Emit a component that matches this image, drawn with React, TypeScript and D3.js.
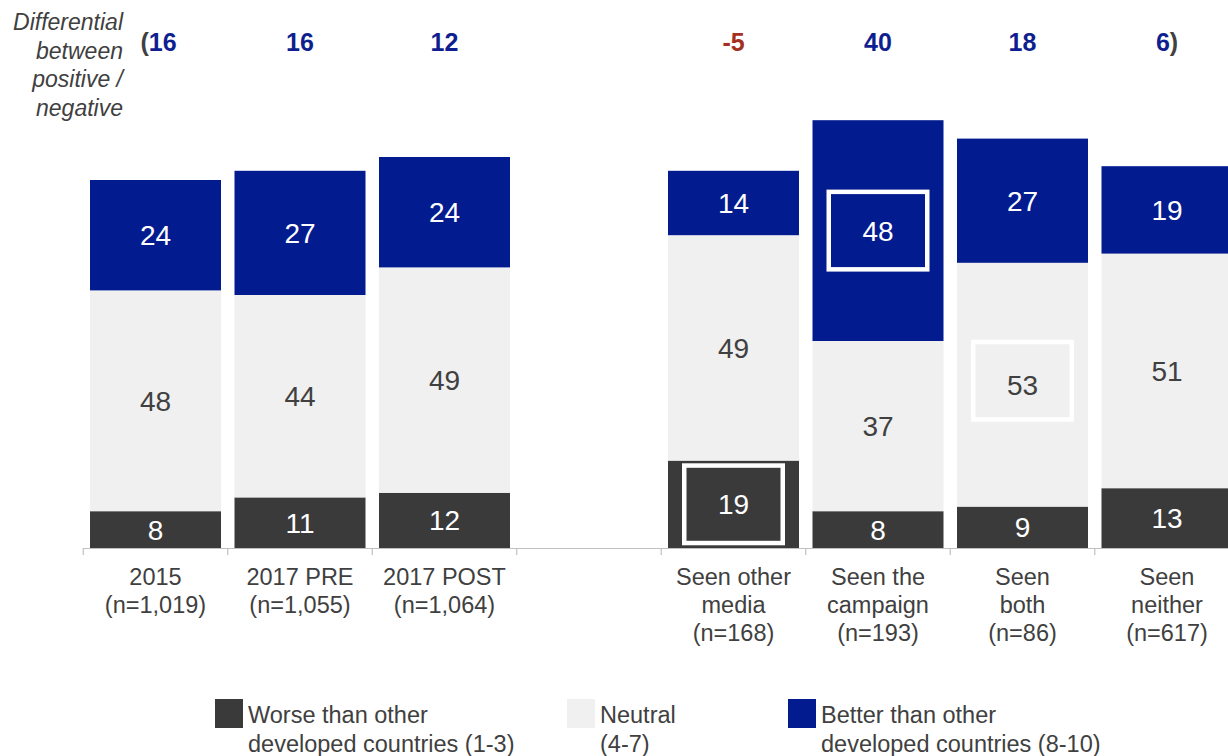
import * as d3 from 'd3';
import { useEffect } from 'react';

// Survey groups, left panel (years) then right panel (exposure)
const categories = ['2015', '2017 PRE', '2017 POST', 'Seen other media', 'Seen the campaign', 'Seen both', 'Seen neither'];
const tickLabels = [
  ['2015', '(n=1,019)'],
  ['2017 PRE', '(n=1,055)'],
  ['2017 POST', '(n=1,064)'],
  ['Seen other', 'media', '(n=168)'],
  ['Seen the', 'campaign', '(n=193)'],
  ['Seen', 'both', '(n=86)'],
  ['Seen', 'neither', '(n=617)'],
];
const worse = [8, 11, 12, 19, 8, 9, 13];
const neutral = [48, 44, 49, 49, 37, 53, 51];
const better = [24, 27, 24, 14, 48, 27, 19];
const differential = [16, 16, 12, -5, 40, 18, 6];

const seriesKeys = ['worse', 'neutral', 'better'];
const seriesNames = [
  ['Worse than other', 'developed countries (1-3)'],
  ['Neutral', '(4-7)'],
  ['Better than other', 'developed countries (8-10)'],
];
const highlights = [
  { category: 'Seen other media', series: 'worse' },
  { category: 'Seen the campaign', series: 'better' },
  { category: 'Seen both', series: 'neutral' },
];

const colors: Record<string, string> = { worse: '#3a3a3a', neutral: '#f0f0f0', better: '#021b8f' };
const labelColors: Record<string, string> = { worse: '#ffffff', neutral: '#404040', better: '#ffffff' };
const textColor = '#404040';
const font = '"Liberation Sans", Arial, sans-serif';

const W = 1228;
const H = 756;
const GAP = '__gap__';

export default function App() {
  useEffect(() => {
    document.body.style.margin = '0';
  }, []);

  const slots = [...categories.slice(0, 3), GAP, ...categories.slice(3)];
  const x = d3.scaleBand<string>()
    .domain(slots)
    .range([83.25, 83.25 + 144.5 * slots.length])
    .paddingInner(0.0934)
    .paddingOuter(0.0467);
  const step = x.step();
  const bw = x.bandwidth();
  const half = (step - bw) / 2;

  const y = d3.scaleLinear().domain([0, 100]).range([548, 88]);

  const rows = categories.map((c, i) => ({ category: c, worse: worse[i], neutral: neutral[i], better: better[i] }));
  const stacked = d3.stack<any>().keys(seriesKeys)(rows);

  const baseY = y(0);

  return (
    <svg width={W} height={H} style={{ display: 'block', fontFamily: font }}>
      <rect width={W} height={H} fill="#ffffff" />

      {/* title on the left */}
      <text x={123} y={22} textAnchor="end" fontStyle="italic" fontSize={23} fill={textColor}>
        {['Differential', 'between', 'positive /', 'negative'].map((t, i) => (
          <tspan key={i} x={123} y={22 + i * 28.7} dy="0.35em">{t}</tspan>
        ))}
      </text>

      {/* differential row */}
      {categories.map((c, i) => {
        const cx = (x(c) ?? 0) + bw / 2;
        const v = differential[i];
        const fill = v < 0 ? '#a33021' : '#0f1f8f';
        return (
          <text key={c} x={cx + (i === 0 ? 3 : 0)} y={42} dy="0.35em" textAnchor="middle" fontSize={25} fontWeight="bold">
            {i === 0 && <tspan fill={textColor}>(</tspan>}
            <tspan fill={fill}>{v}</tspan>
            {i === categories.length - 1 && <tspan fill={textColor}>)</tspan>}
          </text>
        );
      })}

      {/* stacked bars */}
      {stacked.map((layer) => (
        <g key={layer.key}>
          {layer.map((d, i) => {
            const c = categories[i];
            const x0 = x(c) ?? 0;
            const top = y(d[1]);
            const bottom = y(d[0]);
            return (
              <g key={c}>
                <rect x={x0} y={top} width={bw} height={bottom - top} fill={colors[layer.key]} />
                <text
                  x={x0 + bw / 2}
                  y={(top + bottom) / 2}
                  dy="0.36em"
                  textAnchor="middle"
                  fontSize={28}
                  fill={labelColors[layer.key]}
                >
                  {d[1] - d[0]}
                </text>
              </g>
            );
          })}
        </g>
      ))}

      {/* highlight boxes */}
      {highlights.map((h) => {
        const i = categories.indexOf(h.category);
        const layer = stacked[seriesKeys.indexOf(h.series)];
        const d = layer[i];
        const top = y(d[1]);
        const bottom = y(d[0]);
        const segH = bottom - top;
        const boxH = Math.min(82, segH - 4);
        const cy = (top + bottom) / 2 - (segH > 200 && h.series === 'neutral' ? 4 : 0);
        const x0 = (x(h.category) ?? 0) + 14;
        return (
          <rect
            key={h.category}
            x={x0 + 2.25}
            y={cy - boxH / 2 + 2.25}
            width={bw - 28 - 4.5}
            height={boxH - 4.5}
            fill="none"
            stroke="#ffffff"
            strokeWidth={4.5}
          />
        );
      })}

      {/* axis */}
      <line x1={x(slots[0])! - half} x2={W} y1={baseY + 0.5} y2={baseY + 0.5} stroke="#c0c0c0" strokeWidth={1.2} />
      {slots.map((s) => (
        <line
          key={s}
          x1={(x(s) ?? 0) - half}
          x2={(x(s) ?? 0) - half}
          y1={baseY}
          y2={baseY + 7}
          stroke="#c0c0c0"
          strokeWidth={1.2}
        />
      ))}

      {/* category labels */}
      {categories.map((c, i) => (
        <text key={c} textAnchor="middle" fontSize={23.5} fill={textColor}>
          {tickLabels[i].map((t, j) => (
            <tspan key={j} x={(x(c) ?? 0) + bw / 2} y={577 + j * 28} dy="0.35em">{t}</tspan>
          ))}
        </text>
      ))}

      {/* legend */}
      {seriesKeys.map((k, i) => {
        const lx = [215, 567, 788][i];
        return (
          <g key={k} transform={`translate(${lx},699)`}>
            <rect width={28} height={29} fill={colors[k]} />
            <text fontSize={23.5} fill={textColor}>
              {seriesNames[i].map((t, j) => (
                <tspan key={j} x={33} y={16 + j * 29} dy="0.35em">{t}</tspan>
              ))}
            </text>
          </g>
        );
      })}
    </svg>
  );
}
